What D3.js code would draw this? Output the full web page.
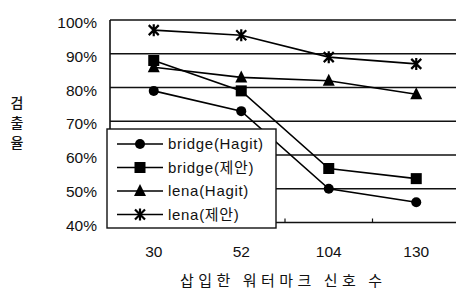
<!DOCTYPE html>
<html><head><meta charset="utf-8">
<script src="https://cdn.jsdelivr.net/npm/d3@7/dist/d3.min.js"></script>
<style>
html,body{margin:0;padding:0;background:#fff;}
svg{display:block;}
text{font-family:"Liberation Sans",Arial,"Noto Sans CJK KR",sans-serif;fill:#111;}
.kr{font-family:"Noto Sans CJK KR","Liberation Sans",sans-serif;}
</style></head><body>
<script>
const categories = ["30","52","104","130"];
const seriesNames = ["bridge(Hagit)","bridge(제안)","lena(Hagit)","lena(제안)"];
const bridgeHagit = [79, 73, 50, 46];
const bridgeProposed = [88, 79, 56, 53];
const lenaHagit = [86, 83, 82, 78];
const lenaProposed = [97, 95.5, 89, 87];
const yTicks = [40, 50, 60, 70, 80, 90, 100];
const yTitle = ["검","출","율"];
const xTitle = "삽입한 워터마크 신호 수";
const markers = ["circle","square","triangle","star"];

const series = [bridgeHagit, bridgeProposed, lenaHagit, lenaProposed];
const W = 456, H = 296;
const L = 110, R = 460, T = 20, B = 222.5;

const svg = d3.select("body").append("svg").attr("width", W).attr("height", H);
const x = d3.scaleBand().domain(categories).range([L, R]).padding(0);
const y = d3.scaleLinear().domain([40, 100]).range([B, T]);

// gridlines
svg.append("g").selectAll("line").data(yTicks).join("line")
  .attr("x1", L).attr("x2", R).attr("y1", d => y(d)).attr("y2", d => y(d))
  .attr("stroke", "#111").attr("stroke-width", 1.6);
// left border
svg.append("line").attr("x1", L).attr("x2", L).attr("y1", T).attr("y2", B)
  .attr("stroke", "#111").attr("stroke-width", 1.6);

// x ticks at band edges (inward)
const edges = categories.slice(1).map(c => x(c));
svg.append("g").selectAll("line").data(edges).join("line")
  .attr("x1", d => d).attr("x2", d => d).attr("y1", B).attr("y2", B - 4)
  .attr("stroke", "#111").attr("stroke-width", 1.2);

// y labels
svg.append("g").selectAll("text").data(yTicks).join("text")
  .attr("x", 97).attr("y", d => y(d) + 2.5).attr("dy", "0.36em")
  .attr("text-anchor", "end").attr("font-size", 15.5).text(d => d + "%");

// x labels
svg.append("g").selectAll("text").data(categories).join("text")
  .attr("x", d => x(d) + x.bandwidth() / 2).attr("y", 251).attr("dy", "0.36em")
  .attr("text-anchor", "middle").attr("font-size", 15.5).text(d => d);

// axis titles
svg.append("text").attr("class", "kr").attr("x", 180).attr("y", 281).attr("dy", "0.36em")
  .attr("font-size", 15).attr("textLength", 202).attr("lengthAdjust", "spacing").text(xTitle);
svg.append("g").selectAll("text").data(yTitle).join("text").attr("class", "kr")
  .attr("x", 17).attr("y", (d, i) => 103 + i * 20).attr("dy", "0.36em")
  .attr("text-anchor", "middle").attr("font-size", 14).attr("font-weight", 500).text(d => d);

function drawMarker(g, type, cx, cy) {
  if (type === "circle") {
    g.append("circle").attr("cx", cx).attr("cy", cy).attr("r", 5).attr("fill", "#000");
  } else if (type === "square") {
    g.append("rect").attr("x", cx - 5.5).attr("y", cy - 5.5).attr("width", 11).attr("height", 11).attr("fill", "#000");
  } else if (type === "triangle") {
    g.append("path").attr("d", `M${cx},${cy - 7}L${cx + 6},${cy + 5}L${cx - 6},${cy + 5}Z`).attr("fill", "#000");
  } else {
    const s = 5;
    g.append("path").attr("d",
      `M${cx - s},${cy - s}L${cx + s},${cy + s}M${cx - s},${cy + s}L${cx + s},${cy - s}M${cx},${cy - s - 1}L${cx},${cy + s + 1}`)
      .attr("stroke", "#000").attr("stroke-width", 2.2).attr("fill", "none");
  }
}

const line = d3.line().x((d, i) => x(categories[i]) + x.bandwidth() / 2).y(d => y(d));
series.forEach((vals, si) => {
  const g = svg.append("g");
  g.append("path").attr("d", line(vals)).attr("fill", "none").attr("stroke", "#000").attr("stroke-width", 1.6);
  vals.forEach((v, i) => drawMarker(g, markers[si], x(categories[i]) + x.bandwidth() / 2, y(v)));
});

// legend
const lg = svg.append("g");
lg.append("rect").attr("x", 107).attr("y", 129).attr("width", 169).attr("height", 99)
  .attr("fill", "#fff").attr("stroke", "#111").attr("stroke-width", 1.4);
seriesNames.forEach((name, i) => {
  const ly = 144 + i * 23.5;
  lg.append("line").attr("x1", 117).attr("x2", 163).attr("y1", ly).attr("y2", ly)
    .attr("stroke", "#000").attr("stroke-width", 1.6);
  drawMarker(lg, markers[i], 140, ly);
  lg.append("text").attr("x", 168).attr("y", ly).attr("dy", "0.36em")
    .attr("font-size", 15).attr("letter-spacing", 0.7).text(name);
});
</script>
</body></html>
